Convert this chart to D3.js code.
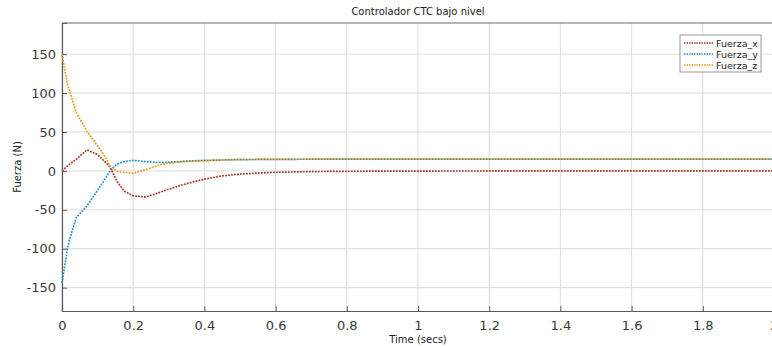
<!DOCTYPE html>
<html>
<head>
<meta charset="utf-8">
<script src="https://cdn.jsdelivr.net/npm/d3@7"></script>
<style>
  html, body { margin: 0; padding: 0; background: #fff; }
  svg { display: block; font-family: "DejaVu Sans", sans-serif; }
</style>
</head>
<body>
<svg id="chart" width="772" height="347"></svg>
<script>
// Sample times (s) and force responses (N) from the CTC controller run
const time = [0, 0.015, 0.02, 0.04, 0.07, 0.1, 0.12, 0.135, 0.155, 0.175, 0.2, 0.235, 0.26, 0.29, 0.33, 0.37, 0.4, 0.45, 0.5, 0.55, 0.6, 0.7, 0.8, 1.0, 1.2, 1.4, 1.6, 1.8, 2.0];
const fuerzaX = [0, 6, 8, 15, 27, 21, 12, 5, -14, -26, -32, -33.5, -30, -25, -19, -14, -10.5, -6.5, -4, -2.8, -1.8, -0.9, -0.5, -0.2, -0.1, 0, 0, 0, 0];
const fuerzaY = [-144, -101, -90, -60, -45, -25, -11, 0, 9, 12, 13.5, 12, 11, 11, 12, 13, 13.5, 14, 14.5, 14.7, 14.8, 15, 15, 15, 15, 15, 15, 15, 15];
const fuerzaZ = [150, 112, 105, 75, 51, 32, 19, 6, -0.5, -2, -3, 1.5, 5.5, 9.5, 11.5, 12.5, 13, 14, 14.5, 14.7, 14.8, 15, 15, 15, 15, 15, 15, 15, 15];

const seriesNames = ["Fuerza_x", "Fuerza_y", "Fuerza_z"];
const seriesColors = ["#a3372c", "#2a8bd0", "#e99d18"];
const xTicks = [0, 0.2, 0.4, 0.6, 0.8, 1, 1.2, 1.4, 1.6, 1.8, 2];
const yTicks = [-150, -100, -50, 0, 50, 100, 150];

const svg = d3.select("#chart");
const margin = { left: 62, top: 23, right: -2, bottom: 36 };
const W = 772, H = 347;

const x = d3.scaleLinear().domain([0, 2]).range([margin.left, W - margin.right]);
const y = d3.scaleLinear().domain([-180, 190]).range([H - margin.bottom, margin.top]);

// grid
const grid = svg.append("g");
grid.selectAll("line.vx").data(xTicks).join("line")
  .attr("x1", d => x(d)).attr("x2", d => x(d))
  .attr("y1", y.range()[1]).attr("y2", y.range()[0])
  .attr("stroke", "#dcdcdc").attr("stroke-width", 1);
grid.selectAll("line.hy").data(yTicks).join("line")
  .attr("x1", x.range()[0]).attr("x2", x.range()[1])
  .attr("y1", d => y(d)).attr("y2", d => y(d))
  .attr("stroke", "#dcdcdc").attr("stroke-width", 1);

// axes (plain hyphen for negatives)
const plain = d => String(d);
const xAxis = svg.append("g")
  .attr("transform", `translate(0,${y.range()[0]})`)
  .call(d3.axisBottom(x).tickValues(xTicks).tickSize(-5).tickPadding(10).tickFormat(plain));
const yAxis = svg.append("g")
  .attr("transform", `translate(${x.range()[0]},0)`)
  .call(d3.axisLeft(y).tickValues(yTicks).tickSize(-5).tickPadding(6).tickFormat(plain));
[xAxis, yAxis].forEach(a => {
  a.select(".domain").attr("stroke", "#5a5a5a").attr("stroke-width", 1.2);
  a.selectAll(".tick line").attr("stroke", "#5a5a5a");
  a.selectAll(".tick text").attr("fill", "#3a3a3a").style("font-size", "13px")
    .style("font-family", "DejaVu Sans, sans-serif");
});
// top border
svg.append("line")
  .attr("x1", x.range()[0]).attr("x2", x.range()[1])
  .attr("y1", y.range()[1]).attr("y2", y.range()[1])
  .attr("stroke", "#6a6a6a").attr("stroke-width", 1);

// series lines
const data = [fuerzaX, fuerzaY, fuerzaZ];
const line = d3.line().x((d, i) => x(time[i])).y(d => y(d));
svg.append("g").selectAll("path").data(data).join("path")
  .attr("d", d => line(d))
  .attr("fill", "none")
  .attr("stroke", (d, i) => seriesColors[i])
  .attr("stroke-width", 1.7)
  .attr("stroke-dasharray", "1.8,1.2");

// title and axis labels
svg.append("text").attr("x", 418).attr("y", 15).attr("text-anchor", "middle")
  .style("font-size", "10px").attr("fill", "#222").text("Controlador CTC bajo nivel");
svg.append("text").attr("x", 418).attr("y", 343).attr("text-anchor", "middle")
  .style("font-size", "10px").attr("fill", "#222").text("Time (secs)");
svg.append("text").attr("transform", "translate(21,167) rotate(-90)").attr("text-anchor", "middle")
  .style("font-size", "10px").attr("fill", "#222").text("Fuerza (N)");

// legend
const lg = svg.append("g").attr("transform", "translate(680,35)");
lg.append("rect").attr("width", 81).attr("height", 37)
  .attr("fill", "#fff").attr("stroke", "#9a9a9a").attr("stroke-width", 1);
seriesNames.forEach((name, i) => {
  const yy = 8 + i * 11;
  lg.append("line").attr("x1", 4).attr("x2", 34).attr("y1", yy).attr("y2", yy)
    .attr("stroke", seriesColors[i]).attr("stroke-width", 1.5).attr("stroke-dasharray", "1.5,1");
  lg.append("text").attr("x", 36).attr("y", yy + 3.5)
    .style("font-size", "9.5px").attr("fill", "#222").text(name);
});
</script>
</body>
</html>
